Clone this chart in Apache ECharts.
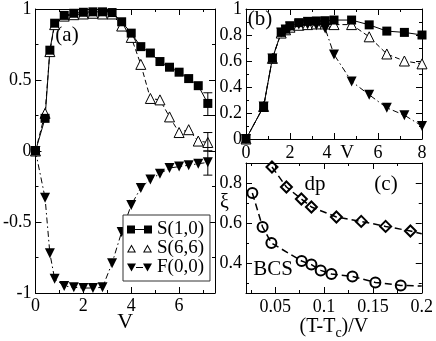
<!DOCTYPE html>
<html>
<head>
<meta charset="utf-8">
<script src="https://cdn.jsdelivr.net/npm/echarts@6/dist/echarts.min.js"></script>
<style>
  html, body { margin: 0; padding: 0; background: #fff; }
  #chart { width: 436px; height: 341px; }
</style>
</head>
<body>
<div id="chart"></div>
<script>
// panel (a)
const vA = [0, 0.4, 0.6, 0.8, 1.2, 1.6, 2.0, 2.4, 2.8, 3.2, 3.6, 4.0, 4.4, 4.8, 5.2, 5.6, 6.0, 6.4, 6.8, 7.2];
const s10A = [0, 0.23, 0.71, 0.90, 0.955, 0.97, 0.977, 0.98, 0.98, 0.975, 0.91, 0.83, 0.735, 0.69, 0.63, 0.59, 0.555, 0.51, 0.46, 0.335];
const s66A = [0, 0.265, 0.70, 0.89, 0.95, 0.96, 0.965, 0.97, 0.965, 0.965, 0.88, 0.80, 0.61, 0.37, 0.36, 0.24, 0.13, 0.15, 0.07, 0.06];
const f00A = [0, -0.33, -0.72, -0.90, -0.95, -0.96, -0.965, -0.965, -0.96, -0.79, -0.57, -0.38, -0.26, -0.20, -0.16, -0.12, -0.11, -0.10, -0.09, -0.08];
// error bars at the last point: [V, low, high]
const errA = [[7.2, 0.25, 0.41], [7.2, 0.0, 0.13], [7.2, -0.17, 0.0]];

// panel (b)
const vB = [0, 0.8, 1.2, 1.6, 1.8, 2.0, 2.4, 2.8, 3.2, 3.6, 4.0, 4.8, 5.6, 6.4, 7.2, 8.0];
const s10B = [0, 0.25, 0.62, 0.82, 0.845, 0.87, 0.895, 0.905, 0.908, 0.91, 0.915, 0.915, 0.878, 0.83, 0.82, 0.80];
const s66B = [0, 0.25, 0.62, 0.815, 0.84, 0.86, 0.875, 0.88, 0.885, 0.885, 0.88, 0.88, 0.786, 0.654, 0.60, 0.578];
const f00B = [0, 0.25, 0.62, 0.82, 0.84, 0.865, 0.88, 0.88, 0.875, 0.85, 0.65, 0.443, 0.34, 0.24, 0.183, 0.10];

// panel (c)
const bcsX = [0.0265, 0.037, 0.046, 0.077, 0.087, 0.0965, 0.1075, 0.129, 0.1525, 0.1785];
const bcsY = [0.75, 0.58, 0.50, 0.41, 0.392, 0.363, 0.345, 0.333, 0.303, 0.288];
const bcsEnd = [0.2, 0.285];
const dpX = [0.0466, 0.0614, 0.0767, 0.087, 0.1126, 0.138, 0.163, 0.1884];
const dpY = [0.88, 0.78, 0.72, 0.68, 0.63, 0.608, 0.583, 0.56];
const dpEnd = [0.2, 0.546];

const FONT = 'Liberation Serif';

const axis = (gridIndex, position, range, label) => ({
  type: 'value',
  gridIndex: gridIndex,
  position: position,
  ...range,
  axisLine: {show: true, onZero: false, lineStyle: {color: '#000', width: 1}},
  axisTick: {show: true, inside: true, length: 6, lineStyle: {color: '#000', width: 1}},
  minorTick: {show: true, splitNumber: 2, length: 3, lineStyle: {color: '#000', width: 1}},
  splitLine: {show: false},
  axisLabel: Object.assign({show: !!label, color: '#000', fontFamily: FONT, fontSize: 18, margin: 4}, label || {}),
});

const rangeAX = {min: 0, max: 7.5, interval: 2};
const rangeAY = {min: -1, max: 1, interval: 0.5};
const rangeBX = {min: 0, max: 8, interval: 2};
const rangeBY = {min: 0, max: 1, interval: 0.2};
const rangeCX = {min: 0.02, max: 0.2, splitNumber: 4};
const rangeCY = {min: 0.25, max: 0.9, splitNumber: 3};

const xAxes = [
  Object.assign(axis(0, 'bottom', rangeAX, {showMaxLabel: false}), {
    name: 'V', nameLocation: 'middle', nameGap: 18, nameMoveOverlap: false,
    nameTextStyle: {fontFamily: FONT, fontSize: 22, color: '#000'},
  }),
  axis(0, 'top', rangeAX, null),
  Object.assign(axis(1, 'bottom', rangeBX, {
    margin: 5,
    formatter: v => (v === 4 ? '{s|4}' : String(v)),
    rich: {s: {fontFamily: FONT, fontSize: 18, color: '#000', padding: [0, 14, 0, 0]}},
  }), {
    name: 'V', nameLocation: 'middle', nameGap: 5, nameMoveOverlap: false,
    nameTextStyle: {fontFamily: FONT, fontSize: 19, color: '#000', padding: [0, 0, 0, 26]},
  }),
  axis(1, 'top', rangeBX, null),
  Object.assign(axis(2, 'bottom', rangeCX, {showMinLabel: false, margin: 5}), {
    name: '(T-T{sub|c})/V', nameLocation: 'middle', nameGap: 21, nameMoveOverlap: false,
    nameTextStyle: {
      fontFamily: FONT, fontSize: 20, color: '#000',
      rich: {sub: {fontFamily: FONT, fontSize: 14, color: '#000', verticalAlign: 'bottom', padding: [12, 0, 0, 0]}},
    },
  }),
  axis(2, 'top', rangeCX, null),
];

const yAxes = [
  axis(0, 'left', rangeAY, {}),
  axis(0, 'right', rangeAY, null),
  axis(1, 'left', rangeBY, {}),
  axis(1, 'right', rangeBY, null),
  Object.assign(axis(2, 'left', rangeCY, {showMinLabel: false, showMaxLabel: false}), {
    // two empty lines below lift the symbol up to sit between 0.6 and 0.8
    name: 'ξ\n\n', nameLocation: 'middle', nameRotate: 0, nameGap: 17, nameMoveOverlap: false,
    nameTextStyle: {fontFamily: FONT, fontSize: 20, color: '#000', lineHeight: 25},
  }),
  axis(2, 'right', rangeCY, null),
];

const styles = {
  'S(1,0)': {
    symbol: 'rect', symbolSize: 9,
    itemStyle: {color: '#000'},
    lineStyle: {color: '#000', width: 1, type: 'solid'},
  },
  'S(6,6)': {
    symbol: 'triangle', symbolSize: 10,
    itemStyle: {color: '#fff', borderColor: '#000', borderWidth: 1},
    lineStyle: {color: '#000', width: 1, type: [5, 3]},
  },
  'F(0,0)': {
    symbol: 'triangle', symbolRotate: 180, symbolSize: 10,
    itemStyle: {color: '#000'},
    lineStyle: {color: '#000', width: 1, type: [6, 3, 1.5, 3]},
  },
};

const lineSeries = (name, axisIndex, xs, ys) => Object.assign({
  type: 'line',
  name: name,
  xAxisIndex: axisIndex,
  yAxisIndex: axisIndex,
  data: xs.map((x, i) => [x, ys[i]]),
  showAllSymbol: true,
  silent: true,
}, styles[name]);

const curveSeries = (name, xs, ys, end, symbol, size) => ({
  type: 'line',
  name: name,
  xAxisIndex: 4,
  yAxisIndex: 4,
  data: xs.map((x, i) => [x, ys[i]]).concat([{value: end, symbol: 'none'}]),
  symbol: symbol,
  symbolSize: size,
  showAllSymbol: true,
  itemStyle: {color: 'rgba(0,0,0,0)', borderColor: '#000', borderWidth: 2},
  lineStyle: {color: '#000', width: 1.5, type: [7, 4]},
  silent: true,
});

const renderErr = (params, api) => {
  const x = api.value(0);
  const lo = api.coord([x, api.value(1)]);
  const hi = api.coord([x, api.value(2)]);
  const w = 4.5;
  const st = {stroke: '#000', lineWidth: 1};
  return {
    type: 'group',
    children: [
      {type: 'line', shape: {x1: lo[0], y1: lo[1], x2: hi[0], y2: hi[1]}, style: st},
      {type: 'line', shape: {x1: lo[0] - w, y1: lo[1], x2: lo[0] + w, y2: lo[1]}, style: st},
      {type: 'line', shape: {x1: hi[0] - w, y1: hi[1], x2: hi[0] + w, y2: hi[1]}, style: st},
    ],
  };
};

const legendIcons = {
  'S(1,0)': 'path://M0 0h8v8h-8zM8 3.5h9v1h-9zM17 0h8v8h-8z',
  'S(6,6)': 'path://M0 8L4.5 0L9 8ZM1.7 7L7.3 7L4.5 2ZM16 8L20.5 0L25 8ZM17.7 7L23.3 7L20.5 2Z',
  'F(0,0)': 'path://M0 0L9 0L4.5 8ZM9 3.5h7v1h-7zM16 0L25 0L20.5 8Z',
};

const text = (s, x, y) => ({
  type: 'text', x: x, y: y, silent: true,
  style: {text: s, fontFamily: FONT, fontSize: 21, fill: '#000', align: 'center', verticalAlign: 'middle'},
});

const option = {
  animation: false,
  backgroundColor: '#fff',
  grid: [
    {left: 35, top: 8, width: 180, height: 285},
    {left: 246, top: 7, width: 176, height: 132},
    {left: 246, top: 163, width: 176, height: 130},
  ],
  xAxis: xAxes,
  yAxis: yAxes,
  legend: {
    orient: 'vertical',
    left: 123,
    top: 215,
    padding: [5, 6, 4, 4],
    itemGap: 0,
    itemWidth: 25,
    itemHeight: 8,
    selectedMode: false,
    backgroundColor: '#fff',
    borderColor: '#333',
    borderWidth: 1,
    borderRadius: 0,
    textStyle: {fontFamily: FONT, fontSize: 19, color: '#000', lineHeight: 19},
    data: ['S(1,0)', 'S(6,6)', 'F(0,0)'].map(n => ({
      name: n, icon: legendIcons[n],
      itemStyle: {color: '#000', borderWidth: 0},
    })),
  },
  series: [
    lineSeries('S(6,6)', 0, vA, s66A),
    lineSeries('F(0,0)', 0, vA, f00A),
    lineSeries('S(1,0)', 0, vA, s10A),
    {
      type: 'custom', xAxisIndex: 0, yAxisIndex: 0,
      data: errA, encode: {x: 0, y: [1, 2]},
      renderItem: renderErr, silent: true, z: 5,
    },
    lineSeries('S(6,6)', 2, vB, s66B),
    lineSeries('F(0,0)', 2, vB, f00B),
    lineSeries('S(1,0)', 2, vB, s10B),
    curveSeries('BCS', bcsX, bcsY, bcsEnd, 'circle', 10),
    curveSeries('dp', dpX, dpY, dpEnd, 'diamond', 11),
  ],
  graphic: [
    text('(a)', 67, 35),
    text('(b)', 260, 19),
    text('(c)', 386, 184),
    text('dp', 315, 184),
    text('BCS', 273, 269),
  ],
};

const myChart = echarts.init(document.getElementById('chart'));
myChart.setOption(option);
</script>
</body>
</html>
